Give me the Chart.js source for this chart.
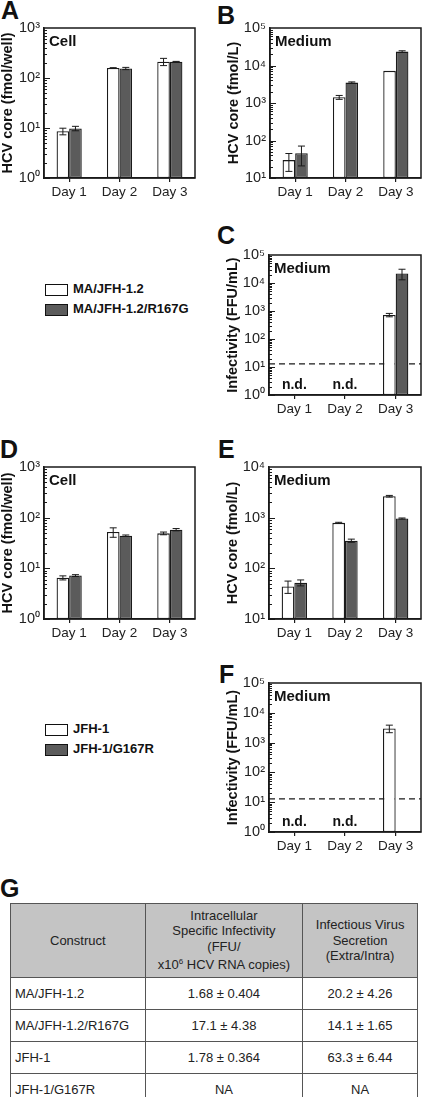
<!DOCTYPE html>
<html>
<head>
<meta charset="utf-8">
<script src="https://cdn.jsdelivr.net/npm/chart.js@4"></script>
<style>
  body { margin: 0; background: #fff; }
  #page { position: relative; width: 425px; height: 1097px; overflow: hidden; font-family: "Liberation Sans", Arial, sans-serif; color: #222; }
  canvas { position: absolute; }
  .letter { position: absolute; font-weight: bold; font-size: 25px; line-height: 25px; color: #111; }
  .leg { position: absolute; left: 45px; font-weight: bold; font-size: 13px; color: #111; }
  .leg span.box { display: inline-block; width: 21px; height: 10px; border: 1.5px solid #111; vertical-align: middle; margin-right: 5px; }
  .leg div { height: 20px; line-height: 20px; }
  #tbl { position: absolute; left: 10px; top: 903px; width: 408px; border-collapse: collapse; font-size: 13px; color: #222; }
  #tbl th, #tbl td { border: 1px solid #555; padding: 0; }
  #tbl th { background: #c4c4c4; font-weight: normal; height: 73px; line-height: 15.5px; text-align: center; }
  #tbl td { height: 31px; text-align: center; }
  #tbl td:first-child { text-align: left; padding-left: 4px; }
</style>
</head>
<body>
<div id="page">
  <div class="letter" style="left:1px;top:-2px">A</div>
  <div class="letter" style="left:217px;top:3px">B</div>
  <div class="letter" style="left:217px;top:223px">C</div>
  <div class="letter" style="left:0px;top:437px">D</div>
  <div class="letter" style="left:218px;top:437px">E</div>
  <div class="letter" style="left:219px;top:662px">F</div>
  <div class="letter" style="left:0px;top:876px">G</div>

  <canvas id="cA"></canvas>
  <canvas id="cB"></canvas>
  <canvas id="cC"></canvas>
  <canvas id="cD"></canvas>
  <canvas id="cE"></canvas>
  <canvas id="cF"></canvas>

  <div class="leg" style="top:279px">
    <div><span class="box" style="background:#fff"></span>MA/JFH-1.2</div>
    <div><span class="box" style="background:#5b5b5b"></span>MA/JFH-1.2/R167G</div>
  </div>
  <div class="leg" style="top:719px">
    <div><span class="box" style="background:#fff"></span>JFH-1</div>
    <div><span class="box" style="background:#5b5b5b"></span>JFH-1/G167R</div>
  </div>

  <table id="tbl"></table>
</div>

<script>
// categories
const days = ['Day 1', 'Day 2', 'Day 3'];

// A: Cell, MA/JFH-1.2 vs R167G (fmol/well)
const aMA = [8.6, 158, 212];
const aMAErr = [1.3, 3, 35];
const aR167G = [9.8, 155, 212];
const aR167GErr = [1.0, 8, 3];

// B: Medium (fmol/L)
const bMA = [30, 1420, 7200];
const bMAErr = [15, 170, 0];
const bR167G = [46, 3500, 23500];
const bR167GErr = [25, 150, 1200];

// C: Medium infectivity (FFU/mL)
const cMA = [null, null, 720];
const cMAErr = [0, 0, 100];
const cR167G = [null, null, 22000];
const cR167GErr = [0, 0, 9000];

// D: Cell, JFH-1 vs G167R
const dJFH = [6.5, 52, 49];
const dJFHErr = [0.6, 11, 3];
const dG167R = [7.2, 44, 58];
const dG167RErr = [0.3, 1.5, 3];

// E: Medium
const eJFH = [44, 790, 2650];
const eJFHErr = [12, 20, 100];
const eG167R = [52, 352, 960];
const eG167RErr = [7, 25, 25];

// F: Medium infectivity
const fJFH = [null, null, 3000];
const fJFHErr = [0, 0, 850];
const fG167R = [null, null, null];
const fG167RErr = [0, 0, 0];

const ndLabels = ['n.d.', 'n.d.', ''];
const detectionLimit = 13;

// table G
const constructs = ['MA/JFH-1.2', 'MA/JFH-1.2/R167G', 'JFH-1', 'JFH-1/G167R'];
const specInfectivity = ['1.68 \u00b1 0.404', '17.1 \u00b1 4.38', '1.78 \u00b1 0.364', 'NA'];
const secretion = ['20.2 \u00b1 4.26', '14.1 \u00b1 1.65', '63.3 \u00b1 6.44', 'NA'];

const WHITE = '#ffffff';
const GRAY = '#5b5b5b';
const INK = '#1a1a1a';
const sup = ['\u2070', '\u00b9', '\u00b2', '\u00b3', '\u2074', '\u2075'];

Chart.defaults.font.family = '"Liberation Sans", Arial, sans-serif';
Chart.defaults.color = '#222';

const panelDecor = {
  id: 'panelDecor',
  beforeDatasetsDraw(chart, args, opts) {
    if (!opts.limit) return;
    const { ctx, chartArea: ca, scales } = chart;
    const py = scales.y.getPixelForValue(opts.limit);
    ctx.save();
    ctx.strokeStyle = INK;
    ctx.lineWidth = 1.3;
    ctx.setLineDash([6, 4]);
    ctx.beginPath();
    ctx.moveTo(ca.left, py);
    ctx.lineTo(ca.right, py);
    ctx.stroke();
    ctx.restore();
  },
  afterDatasetsDraw(chart) {
    const { ctx, scales } = chart;
    ctx.save();
    ctx.strokeStyle = INK;
    ctx.lineWidth = 1;
    chart.data.datasets.forEach((ds, i) => {
      const meta = chart.getDatasetMeta(i);
      ds.data.forEach((v, j) => {
        const e = ds.err ? ds.err[j] : 0;
        if (v == null || !e) return;
        const x = meta.data[j].x;
        const yHi = scales.y.getPixelForValue(v + e);
        const yLo = scales.y.getPixelForValue(Math.max(v - e, scales.y.min));
        ctx.beginPath();
        ctx.moveTo(x, yLo); ctx.lineTo(x, yHi);
        ctx.moveTo(x - 3.5, yHi); ctx.lineTo(x + 3.5, yHi);
        ctx.moveTo(x - 3.5, yLo); ctx.lineTo(x + 3.5, yLo);
        ctx.stroke();
      });
    });
    ctx.restore();
  },
  afterDraw(chart, args, opts) {
    const { ctx, chartArea: ca, scales } = chart;
    ctx.save();
    // frame
    ctx.strokeStyle = INK;
    ctx.lineWidth = 1.5;
    ctx.strokeRect(ca.left, ca.top, ca.right - ca.left, ca.bottom - ca.top);
    // inner log ticks
    ctx.lineWidth = 1;
    const y = scales.y;
    const e0 = Math.round(Math.log10(y.min)), e1 = Math.round(Math.log10(y.max));
    for (let e = e0; e < e1; e++) {
      for (let m = 1; m <= 9; m++) {
        const py = Math.round(y.getPixelForValue(m * Math.pow(10, e))) + 0.5;
        const len = m === 1 ? 6 : 3;
        ctx.beginPath();
        ctx.moveTo(ca.left, py); ctx.lineTo(ca.left + len, py);
        ctx.stroke();
      }
    }
    // panel label
    ctx.fillStyle = '#111';
    ctx.font = 'bold 15px "Liberation Sans", Arial, sans-serif';
    ctx.textBaseline = 'middle';
    ctx.textAlign = 'left';
    ctx.fillText(opts.label, ca.left + 5, ca.top + 14);
    // n.d. marks
    if (opts.nd) {
      ctx.font = 'bold 14px "Liberation Sans", Arial, sans-serif';
      ctx.textAlign = 'center';
      opts.nd.forEach((t, j) => {
        if (t) ctx.fillText(t, scales.x.getPixelForValue(j), ca.bottom - 10);
      });
    }
    ctx.restore();
  }
};
Chart.register(panelDecor);

function makePanel(id, box, yMin, yMax, yTitle, names, values, errs, extras) {
  const el = document.getElementById(id);
  const cl = box.l - 45, ct = box.t - 28;
  const w = box.r - cl + 4, h = box.b - ct + 26;
  el.style.left = cl + 'px';
  el.style.top = ct + 'px';
  el.width = w; el.height = h;
  el.style.width = w + 'px'; el.style.height = h + 'px';
  const fills = [WHITE, GRAY];
  new Chart(el, {
    type: 'bar',
    data: {
      labels: days,
      datasets: values.map((vals, i) => ({
        label: names[i],
        data: vals,
        err: errs[i],
        backgroundColor: fills[i],
        borderColor: INK,
        borderWidth: 1.3,
        borderSkipped: false,
        barPercentage: 1.0,
        categoryPercentage: 0.5
      }))
    },
    options: {
      responsive: false,
      animation: false,
      devicePixelRatio: 1,
      layout: { padding: { left: 0, top: 28, right: 4, bottom: 0 } },
      plugins: { legend: { display: false }, tooltip: { enabled: false }, panelDecor: extras },
      scales: {
        x: {
          grid: { display: true, drawOnChartArea: false, offset: false, tickLength: 4, color: INK, lineWidth: 1.2 },
          border: { display: true, color: INK, width: 1.5 },
          ticks: { font: { size: 13.5 }, color: '#222', padding: 2, maxRotation: 0 },
          afterFit(s) { s.height = 26; }
        },
        y: {
          type: 'logarithmic',
          min: yMin,
          max: yMax,
          afterBuildTicks(s) {
            const t = [];
            for (let e = Math.round(Math.log10(yMin)); e <= Math.round(Math.log10(yMax)); e++) t.push({ value: Math.pow(10, e) });
            s.ticks = t;
          },
          grid: { display: false, drawTicks: false },
          border: { display: true, color: INK, width: 1.5 },
          ticks: {
            font: { size: 14.5 },
            color: '#222',
            padding: 4,
            callback: (v) => '10' + sup[Math.round(Math.log10(v))]
          },
          title: { display: true, text: yTitle, font: { size: 14.5, weight: 'bold' }, color: '#111', padding: 0 },
          afterFit(s) { s.width = 45; }
        }
      }
    }
  });
}

const ma = ['MA/JFH-1.2', 'MA/JFH-1.2/R167G'];
const jfh = ['JFH-1', 'JFH-1/G167R'];

makePanel('cA', { l: 44, t: 28, r: 195, b: 178 }, 1, 1000, 'HCV core (fmol/well)', ma, [aMA, aR167G], [aMAErr, aR167GErr], { label: 'Cell' });
makePanel('cB', { l: 270, t: 28, r: 421, b: 178 }, 10, 100000, 'HCV core (fmol/L)', ma, [bMA, bR167G], [bMAErr, bR167GErr], { label: 'Medium' });
makePanel('cC', { l: 269, t: 255, r: 421, b: 395 }, 1, 100000, 'Infectivity (FFU/mL)', ma, [cMA, cR167G], [cMAErr, cR167GErr], { label: 'Medium', nd: ndLabels, limit: detectionLimit });
makePanel('cD', { l: 44, t: 467, r: 195, b: 619 }, 1, 1000, 'HCV core (fmol/well)', jfh, [dJFH, dG167R], [dJFHErr, dG167RErr], { label: 'Cell' });
makePanel('cE', { l: 269, t: 467, r: 421, b: 619 }, 10, 10000, 'HCV core (fmol/L)', jfh, [eJFH, eG167R], [eJFHErr, eG167RErr], { label: 'Medium' });
makePanel('cF', { l: 269, t: 683, r: 421, b: 832 }, 1, 100000, 'Infectivity (FFU/mL)', jfh, [fJFH, fG167R], [fJFHErr, fG167RErr], { label: 'Medium', nd: ndLabels, limit: detectionLimit });

// table G
const tbl = document.getElementById('tbl');
let html = '<colgroup><col style="width:135px"><col style="width:158px"><col style="width:115px"></colgroup>';
html += '<tr><th>Construct</th><th>Intracellular<br>Specific Infectivity<br>(FFU/<br>x10<sup style="font-size:8px">6</sup> HCV RNA copies)</th><th>Infectious Virus<br>Secretion<br>(Extra/Intra)</th></tr>';
constructs.forEach((c, i) => {
  html += '<tr><td>' + c + '</td><td>' + specInfectivity[i] + '</td><td>' + secretion[i] + '</td></tr>';
});
tbl.innerHTML = html;
</script>
</body>
</html>
